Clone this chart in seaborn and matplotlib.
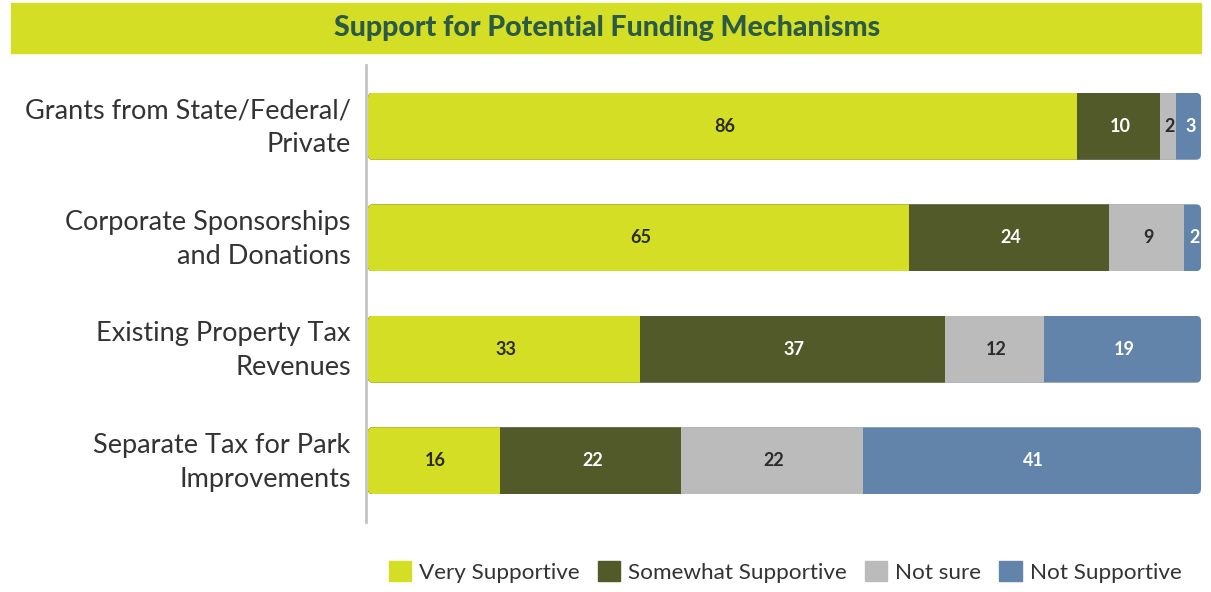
import numpy as np
import pandas as pd
import seaborn as sns
import matplotlib.pyplot as plt
from matplotlib.patches import Rectangle, FancyBboxPatch
from matplotlib.transforms import ScaledTranslation

# chart data
categories = ["Grants from State/Federal/\nPrivate",
              "Corporate Sponsorships\nand Donations",
              "Existing Property Tax\nRevenues",
              "Separate Tax for Park\nImprovements"]
series_names = ["Very Supportive", "Somewhat Supportive", "Not sure", "Not Supportive"]
very = [86, 65, 33, 16]
somewhat = [10, 24, 37, 22]
not_sure = [2, 9, 12, 22]
not_supp = [3, 2, 19, 41]

colors = ["#d4de24", "#515a28", "#bbbbbb", "#6384aa"]
label_colors = ["#2b2b2b", "white", "#2b2b2b", "white"]

sns.set_style("white")
plt.rcParams["font.family"] = ["Lato", "DejaVu Sans"]

vals = np.array([very, somewhat, not_sure, not_supp], dtype=float)
totals = vals.sum(axis=0)
shares = vals / totals
cum = np.cumsum(shares, axis=0)

fig = plt.figure(figsize=(12.11, 5.92), dpi=100)
ax = fig.add_axes([366 / 1211, 1 - 522 / 592, 835 / 1211, 457 / 592])

# stacked bars: draw cumulative totals from the outermost series inward
for i in range(3, -1, -1):
    df = pd.DataFrame({"cat": categories, "x": cum[i]})
    sns.barplot(data=df, x="x", y="cat", order=categories, color=colors[i],
                width=0.6, saturation=1, ax=ax, orient="h")

x0 = -2 / 833
ax.set_xlim(x0, 1.0)
ax.set_ylim(3.55, -0.55)

# rounded ends for each row
px_x = 833
px_y = 457 / 4.1
for patch in ax.patches:
    y0 = patch.get_y()
    h = patch.get_height()
    clip = FancyBboxPatch((0.0, y0), 1.0, h,
                          boxstyle="round,pad=0,rounding_size=0.006",
                          mutation_aspect=px_x / px_y, transform=ax.transData)
    patch.set_clip_path(clip)
    patch.set_edgecolor("none")

# value labels
for i in range(4):
    for j in range(4):
        left = cum[i - 1][j] if i > 0 else 0
        ax.text((left + cum[i][j]) / 2 + 0.002, j, f"{int(vals[i][j])}",
                ha="center", va="center", fontsize=13, fontweight="bold",
                color=label_colors[i])

ax.set_xlabel("")
ax.set_ylabel("")
ax.set_xticks([])
ax.tick_params(axis="y", length=0, pad=11, labelsize=19.5, labelcolor="#333333")
shift = ScaledTranslation(0, 4 / 72, fig.dpi_scale_trans)
for lab in ax.get_yticklabels():
    lab.set_linespacing(1.45)
    lab.set_transform(lab.get_transform() + shift)
for s in ["top", "right", "bottom"]:
    ax.spines[s].set_visible(False)
ax.spines["left"].set_color("#c4c4c4")
ax.spines["left"].set_linewidth(2)

# title banner
fig.patches.append(Rectangle((11 / 1211, 1 - 53 / 592), 1190 / 1211, 50 / 592,
                             transform=fig.transFigure, color="#d4de24", zorder=0))
fig.text(607 / 1211, 1 - 28 / 592, "Support for Potential Funding Mechanisms",
         ha="center", va="center", fontsize=20.5, fontweight=900, color="#2b5a46")

# legend
handles = [Rectangle((0, 0), 1, 1, color=c) for c in colors]
fig.legend(handles, series_names, loc="center", bbox_to_anchor=(785 / 1211, 1 - 572 / 592),
           ncol=4, frameon=False, fontsize=16.2, handlelength=1.0, handleheight=1.0,
           handletextpad=0.35, columnspacing=0.8, labelcolor="#333333")

fig.savefig("out.png", dpi=100)
